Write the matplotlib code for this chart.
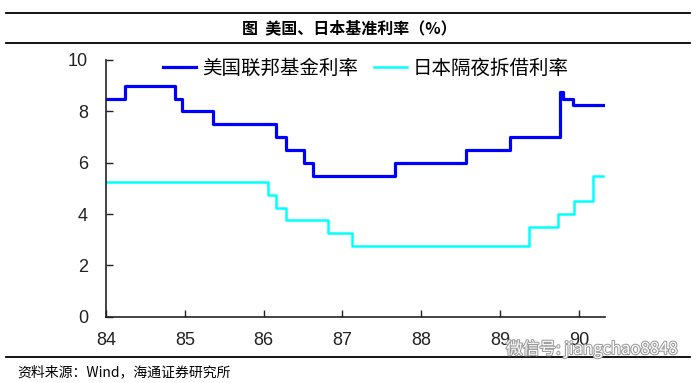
import matplotlib
matplotlib.use("Agg")
import matplotlib.pyplot as plt
import matplotlib.patheffects as pe
from matplotlib.lines import Line2D

plt.rcParams["font.family"] = ["Noto Sans CJK SC", "DejaVu Sans"]

# US federal funds rate: change dates (decimal year) and levels
us_dates = [84.0, 84.24, 84.87, 84.96, 85.36, 86.16, 86.28, 86.51, 86.62,
            87.66, 88.57, 89.12, 89.76, 89.80, 89.93, 90.31]
us_rates = [8.5, 9.0, 8.5, 8.0, 7.5, 7.0, 6.5, 6.0, 5.5,
            6.0, 6.5, 7.0, 8.75, 8.5, 8.25, 8.25]

# Japan overnight call rate
jp_dates = [84.0, 86.06, 86.16, 86.28, 86.81, 87.12, 89.37, 89.73, 89.94, 90.18, 90.31]
jp_rates = [5.25, 4.75, 4.25, 3.75, 3.25, 2.75, 3.5, 4.0, 4.5, 5.5, 5.5]

x_ticks = [84, 85, 86, 87, 88, 89, 90]
y_ticks = [0, 2, 4, 6, 8, 10]

fig = plt.figure(figsize=(6.99, 3.83), dpi=100)
ax = fig.add_axes([106 / 699, 1 - 316.7 / 383, (605 - 106) / 699, (316.7 - 60) / 383])

ax.step(us_dates, us_rates, where="post", color="#0000ff", lw=2.3)
ax.step(jp_dates, jp_rates, where="post", color="#00ffff", lw=1.8)

ax.set_xlim(84, 90.33)
ax.set_ylim(0, 10)
ax.set_xticks(x_ticks)
ax.set_yticks(y_ticks)
ax.set_xticklabels([str(t) for t in x_ticks], family="Liberation Sans", fontsize=13, color="#222222")
ax.set_yticklabels([str(t) for t in y_ticks], family="Liberation Sans", fontsize=13, color="#222222")
ax.tick_params(direction="in", length=5, width=1, colors="#222222")
ax.tick_params(axis="y", pad=13)
ax.tick_params(axis="x", pad=11)
for side in ["top", "right"]:
    ax.spines[side].set_visible(False)
for side in ["left", "bottom"]:
    ax.spines[side].set_linewidth(1.2)
    ax.spines[side].set_color("#222222")

handles = [Line2D([], [], color="#0000ff", lw=2.3), Line2D([], [], color="#00ffff", lw=1.8)]
ax.legend(handles, ["美国联邦基金利率", "日本隔夜拆借利率"], loc="upper left",
          bbox_to_anchor=(0.08, 1.075), ncol=2, frameon=False, fontsize=14,
          handlelength=1.7, handletextpad=0.3, columnspacing=0.8)

# frame lines and captions
for yp in [12.5, 43, 357]:
    fig.add_artist(Line2D([6 / 699, 690 / 699], [1 - yp / 383, 1 - yp / 383],
                          color="black", lw=1.3))
fig.text(0.5, 1 - 28 / 383, "图  美国、日本基准利率（%）", ha="center", va="center",
         fontsize=11.5, weight="bold")
fig.text(17 / 699, 1 - 372 / 383, "资料来源：Wind，海通证券研究所", ha="left", va="center",
         fontsize=10)
fig.text(506 / 699, 1 - 349 / 383, "微信号: jiangchao8848", ha="left", va="center",
         fontsize=12, color="white",
         path_effects=[pe.withStroke(linewidth=1.5, foreground="#9a9a9a")])

fig.savefig("out.png", dpi=100)
